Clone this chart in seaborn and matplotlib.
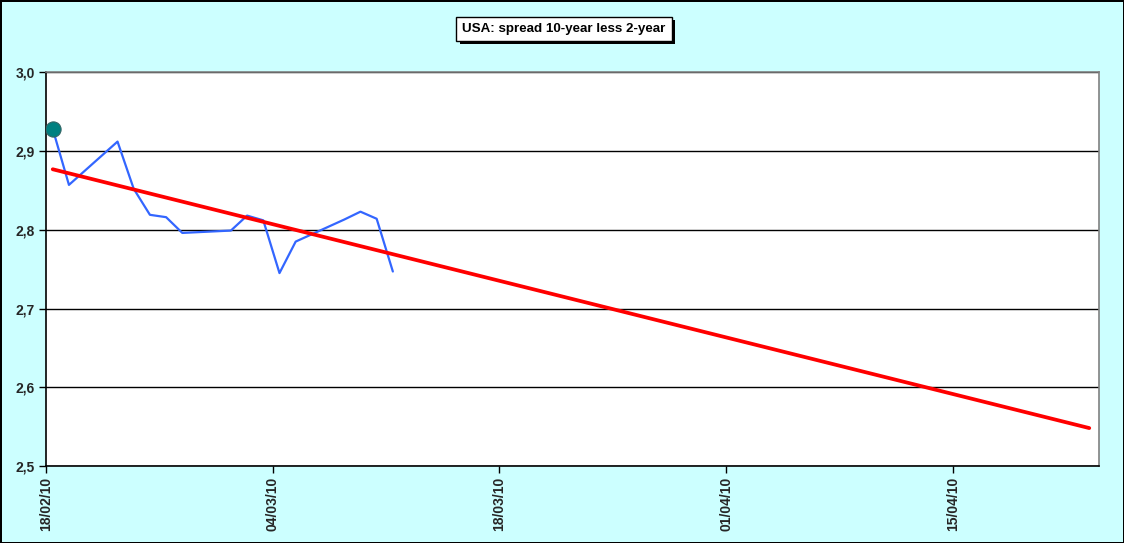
import pandas as pd
import numpy as np
import matplotlib
matplotlib.use('Agg')
import matplotlib.pyplot as plt
import matplotlib.dates as mdates
import matplotlib.patheffects as pe
from matplotlib.ticker import FixedLocator, FuncFormatter
import seaborn as sns

# data (daily spread, business days)
dates = ['2010-02-18', '2010-02-19', '2010-02-22', '2010-02-23', '2010-02-24',
         '2010-02-25', '2010-02-26', '2010-03-01', '2010-03-02', '2010-03-03',
         '2010-03-04', '2010-03-05', '2010-03-08', '2010-03-09', '2010-03-10',
         '2010-03-11']
spread = [2.928, 2.857, 2.912, 2.852, 2.819, 2.816, 2.796, 2.799, 2.818, 2.812,
          2.745, 2.785, 2.813, 2.823, 2.814, 2.747]
trend_end = '2010-04-23'
tick_dates = ['2010-02-18', '2010-03-04', '2010-03-18', '2010-04-01', '2010-04-15']
y_ticks = [2.5, 2.6, 2.7, 2.8, 2.9, 3.0]
title = 'USA: spread 10-year less 2-year'

sns.set_style('white')
plt.rcParams['font.family'] = ['Liberation Sans', 'DejaVu Sans']

fig = plt.figure(figsize=(11.24, 5.43), dpi=100, facecolor='#CCFFFF',
                 edgecolor='black', linewidth=2)
ax = fig.add_axes([46 / 1124, 77 / 543, 1052.7 / 1124, 393.7 / 543])
ax.set_facecolor('white')

df = pd.DataFrame({'date': pd.to_datetime(dates), 'spread': spread})
# excel puts each point a bit inside its day
df['x'] = df['date'] + pd.Timedelta(hours=10)

#linear trend with forecast up to trend_end
days = (df['date'] - df['date'][0]).dt.days
coef = np.polyfit(days, df['spread'], 1)
tdays = np.array([0, (pd.Timestamp(trend_end) - df['date'][0]).days])
trend = pd.DataFrame({'x': df['x'][0] + pd.to_timedelta(tdays, unit='D'),
                      'y': np.polyval(coef, tdays)})

sns.lineplot(data=df, x='x', y='spread', color='#3366FF', lw=1.6, ax=ax, zorder=3)
sns.lineplot(data=trend, x='x', y='y', color='#FF0000', lw=2.7, ax=ax, zorder=4)
ax.scatter(df['x'][:1], df['spread'][:1], s=120, color='#008080',
           edgecolor='#336666', lw=0.8, zorder=5)

start = pd.Timestamp(dates[0])
ax.set_xlim(mdates.date2num(start), mdates.date2num(start + pd.Timedelta(days=65)))
ax.set_ylim(2.5, 3.0)

ax.xaxis.set_major_locator(FixedLocator(mdates.date2num(pd.to_datetime(tick_dates))))
ax.xaxis.set_major_formatter(mdates.DateFormatter('%d/%m/%y'))
ax.yaxis.set_major_locator(FixedLocator(y_ticks))
ax.yaxis.set_major_formatter(FuncFormatter(lambda v, p: f'{v:.1f}'.replace('.', ',')))

ax.yaxis.grid(True, color='black', lw=1)
ax.xaxis.grid(False)
ax.set_axisbelow(True)
for s in ['left', 'bottom']:
    ax.spines[s].set_color('black')
    ax.spines[s].set_linewidth(1.2)
for s in ['top', 'right']:
    ax.spines[s].set_color('#808080')
    ax.spines[s].set_linewidth(1.2)

ax.tick_params(axis='both', which='major', direction='out', length=5, width=1,
               color='black', labelsize=10, pad=3, bottom=True, left=True)
for lab in ax.get_xticklabels():
    lab.set_rotation(90)
    lab.set_fontweight('bold')
for lab in ax.get_yticklabels():
    lab.set_fontweight('bold')
ax.set_xlabel('')
ax.set_ylabel('')
if ax.get_legend() is not None:
    ax.get_legend().remove()

#title box with a drop shadow
t = fig.text(0.5018, 0.9475, title, ha='center', va='center', fontsize=9.6,
             fontweight='bold', color='black',
             bbox=dict(boxstyle='square,pad=0.45', fc='white', ec='black', lw=1))
t.get_bbox_patch().set_path_effects([
    pe.SimplePatchShadow(offset=(2.5, -2.5), shadow_rgbFace='black', alpha=1),
    pe.Normal()])

fig.savefig('out.png', dpi=100, facecolor=fig.get_facecolor(), edgecolor='black')
